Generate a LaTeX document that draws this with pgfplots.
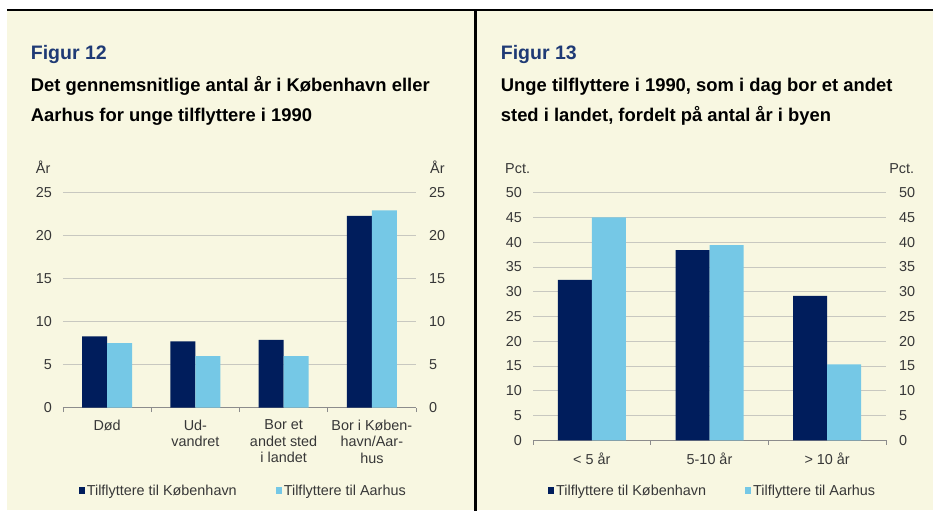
\documentclass[border=0pt]{standalone}
\usepackage{fontspec}
\setmainfont{Liberation Sans}
\usepackage{pgfplots}
\pgfplotsset{compat=1.18}

\definecolor{navy}{RGB}{0,29,92}
\definecolor{sky}{RGB}{117,200,230}
\definecolor{cream}{RGB}{248,247,225}
\definecolor{figblue}{RGB}{31,58,117}
\definecolor{ticktext}{RGB}{55,55,55}
\definecolor{gridgray}{RGB}{200,200,192}
\definecolor{axisgray}{RGB}{140,140,140}

\newcommand{\chartfont}{\fontsize{14.4bp}{16.5bp}\selectfont}

\pgfplotsset{
  barpanel/.style={
    scale only axis,
    anchor=south west,
    ybar=0pt,
    axis x line*=bottom,
    axis y line*=left,
    y axis line style={draw=none},
    x axis line style={draw=axisgray, line width=0.8bp},
    ymajorgrids,
    grid style={gridgray, line width=0.8bp},
    major tick length=0pt,
    minor tick length=4.5bp,
    xtick align=outside,
    every minor tick/.append style={axisgray, line width=0.8bp},
    ticklabel style={font=\chartfont, text=ticktext},
    yticklabel style={anchor=east, inner sep=0pt, xshift=-11bp},
    xticklabel style={anchor=north, inner sep=0pt, yshift=-12bp, align=center},
    /pgf/number format/assume math mode=true,
    legend columns=2,
    legend cell align=left,
    legend image code/.code={\fill[##1] (0bp,-3.3bp) rectangle (6.5bp,3.3bp);},
    legend style={draw=none, fill=none, font=\chartfont, text=ticktext,
      nodes={inner sep=1.8bp},
      /tikz/every even column/.append style={column sep=37bp}},
  },
  rightticks/.style={
    scale only axis,
    anchor=south west,
    axis x line=none,
    axis y line*=right,
    y axis line style={draw=none},
    major tick length=0pt,
    ticklabel style={font=\chartfont, text=ticktext},
    yticklabel style={anchor=west, inner sep=0pt, xshift=13bp},
    /pgf/number format/assume math mode=true,
  },
}

\begin{document}
\begin{tikzpicture}
\useasboundingbox (0bp,0bp) rectangle (933bp,511bp);
\fill[cream] (7bp,1bp) rectangle (933bp,500.5bp);
\draw[line width=2bp] (7bp,500.5bp) -- (933bp,500.5bp);
\draw[line width=2.8bp] (475.7bp,0bp) -- (475.7bp,500.5bp);

% titles
\node[anchor=base west, inner sep=0pt, text=figblue, font=\fontsize{19.5bp}{22bp}\selectfont\bfseries] at (30.7bp,451bp) {Figur 12};
\node[anchor=base west, inner sep=0pt, font=\fontsize{18.4bp}{22bp}\selectfont\bfseries] at (30.7bp,419bp) {Det gennemsnitlige antal år i København eller};
\node[anchor=base west, inner sep=0pt, font=\fontsize{18.4bp}{22bp}\selectfont\bfseries] at (30.7bp,389.7bp) {Aarhus for unge tilflyttere i 1990};
\node[anchor=base west, inner sep=0pt, text=figblue, font=\fontsize{19.5bp}{22bp}\selectfont\bfseries] at (500.7bp,451bp) {Figur 13};
\node[anchor=base west, inner sep=0pt, font=\fontsize{18.4bp}{22bp}\selectfont\bfseries] at (500.7bp,419bp) {Unge tilflyttere i 1990, som i dag bor et andet};
\node[anchor=base west, inner sep=0pt, font=\fontsize{18.4bp}{22bp}\selectfont\bfseries] at (500.7bp,389.7bp) {sted i landet, fordelt på antal år i byen};

% unit labels
\node[anchor=base west, inner sep=0pt, font=\chartfont, text=ticktext] at (35.7bp,337bp) {År};
\node[anchor=base west, inner sep=0pt, font=\chartfont, text=ticktext] at (430bp,337bp) {År};
\node[anchor=base west, inner sep=0pt, font=\chartfont, text=ticktext] at (505bp,337bp) {Pct.};
\node[anchor=base east, inner sep=0pt, font=\chartfont, text=ticktext] at (914.3bp,337bp) {Pct.};

% Figur 12
\begin{axis}[barpanel,
  at={(63bp,103.3bp)}, width=353bp, height=215bp,
  xmin=-0.5, xmax=3.5, ymin=0, ymax=25,
  bar width=25bp,
  ytick={0,5,...,25},
  xtick={0,1,2,3},
  xticklabels={{Død},{Ud-\\vandret},{Bor et\\andet sted\\i landet},{Bor i Køben-\\havn/Aar-\\hus}},
  minor xtick={-0.5,0.5,1.5,2.5,3.5},
  legend style={at={(axis description cs:0.51,-0.386)}, anchor=center},
]
\addplot[fill=navy, draw=none] coordinates {(0,8.3) (1,7.7) (2,7.9) (3,22.3)};
\addplot[fill=sky, draw=none] coordinates {(0,7.5) (1,6.0) (2,6.0) (3,22.95)};
\legend{Tilflyttere til København, Tilflyttere til Aarhus}
\end{axis}
\begin{axis}[rightticks,
  at={(63bp,103.3bp)}, width=353bp, height=215bp,
  xmin=-0.5, xmax=3.5, ymin=0, ymax=25,
  ytick={0,5,...,25},
]
\end{axis}

% Figur 13
\begin{axis}[barpanel,
  at={(533bp,70.7bp)}, width=353bp, height=247.6bp,
  xmin=-0.5, xmax=2.5, ymin=0, ymax=50,
  bar width=34bp,
  ytick={0,5,...,50},
  xtick={0,1,2},
  xticklabels={{< 5 år},{5-10 år},{> 10 år}},
  minor xtick={-0.5,0.5,1.5,2.5},
  legend style={at={(axis description cs:0.508,-0.2036)}, anchor=center},
]
\addplot[fill=navy, draw=none] coordinates {(0,32.4) (1,38.4) (2,29.15)};
\addplot[fill=sky, draw=none] coordinates {(0,45.0) (1,39.4) (2,15.35)};
\legend{Tilflyttere til København, Tilflyttere til Aarhus}
\end{axis}
\begin{axis}[rightticks,
  at={(533bp,70.7bp)}, width=353bp, height=247.6bp,
  xmin=-0.5, xmax=2.5, ymin=0, ymax=50,
  ytick={0,5,...,50},
]
\end{axis}
\end{tikzpicture}
\end{document}
